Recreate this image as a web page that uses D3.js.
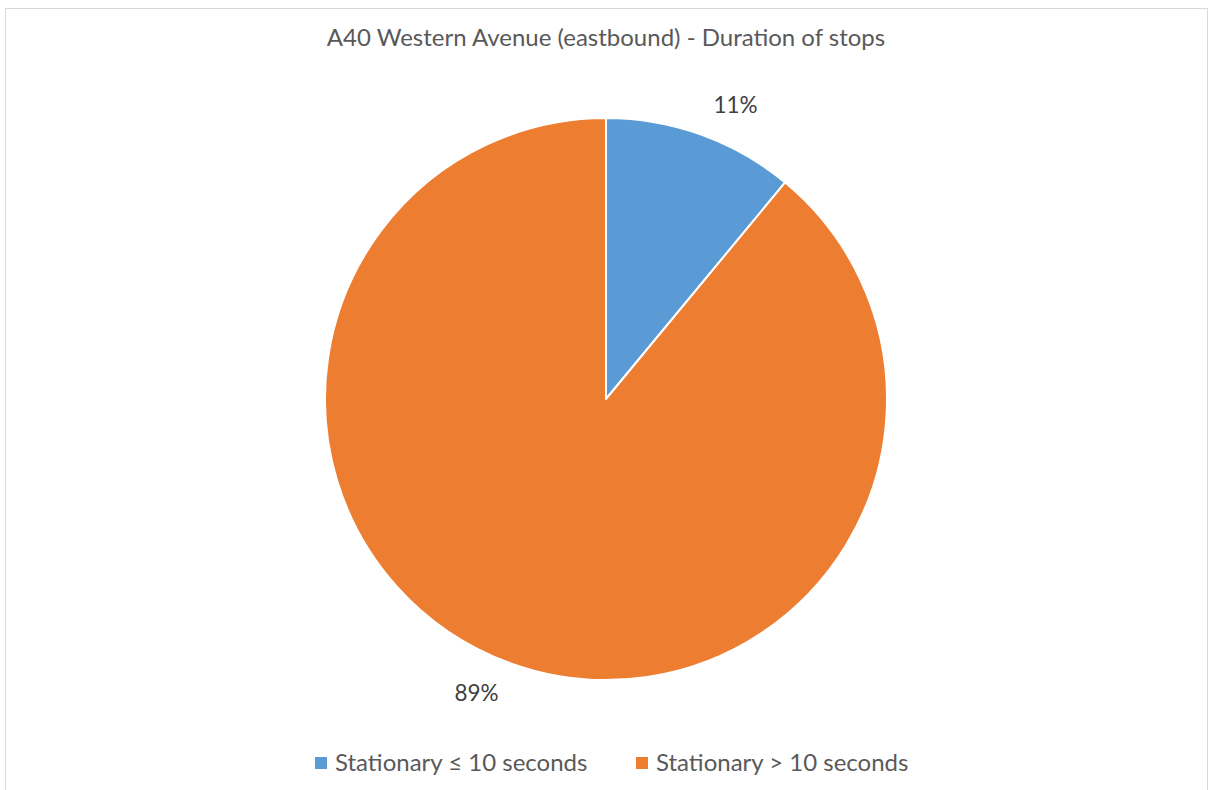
<!DOCTYPE html>
<html><head><meta charset="utf-8">
<script src="https://cdn.jsdelivr.net/npm/d3@7"></script>
<style>body{margin:0;background:#fff;}svg{display:block;font-family:Lato,"Open Sans",sans-serif;}</style>
</head><body>
<svg id="chart" width="1208" height="790"></svg>
<script>
const categories = ["Stationary ≤ 10 seconds", "Stationary > 10 seconds"];
const values = [11, 89];
const labels = ["11%", "89%"];
const colors = ["#5B9BD5", "#ED7D31"];
const title = "A40 Western Avenue (eastbound) - Duration of stops";

const svg = d3.select("#chart");
svg.append("rect").attr("x",5.5).attr("y",8.5).attr("width",1202).attr("height",790)
  .attr("fill","#fff").attr("stroke","#d9d9d9").attr("stroke-width",1);

svg.append("text").attr("x",606).attr("y",46).attr("text-anchor","middle")
  .attr("font-size",24).attr("fill","#595959").text(title);

const cx = 606, cy = 399, r = 281;
const pie = d3.pie().sort(null).value(d=>d);
const arcs = pie(values);
const arc = d3.arc().innerRadius(0).outerRadius(r);
const g = svg.append("g").attr("transform",`translate(${cx},${cy})`);
g.selectAll("path").data(arcs).join("path")
  .attr("d",arc).attr("fill",(d,i)=>colors[i])
  .attr("stroke","#fff").attr("stroke-width",2).attr("stroke-linejoin","round");

const labelR = 321, shift = 4*Math.PI/180;
g.selectAll("text.lbl").data(arcs).join("text").attr("class","lbl")
  .attr("x",d=>{const a=(d.startAngle+d.endAngle)/2+shift;return labelR*Math.sin(a);})
  .attr("y",d=>{const a=(d.startAngle+d.endAngle)/2+shift;return -labelR*Math.cos(a);})
  .attr("dy","0.35em").attr("text-anchor","middle")
  .attr("font-size",22.5).attr("fill","#404040").text((d,i)=>labels[i]);

const legendX = [315, 636];
const lg = svg.append("g");
categories.forEach((c,i)=>{
  lg.append("rect").attr("x",legendX[i]).attr("y",757).attr("width",12).attr("height",12).attr("fill",colors[i]);
  lg.append("text").attr("x",legendX[i]+20).attr("y",763).attr("dy","0.35em")
    .attr("font-size",24).attr("fill","#595959").text(c);
});
</script>
</body></html>
